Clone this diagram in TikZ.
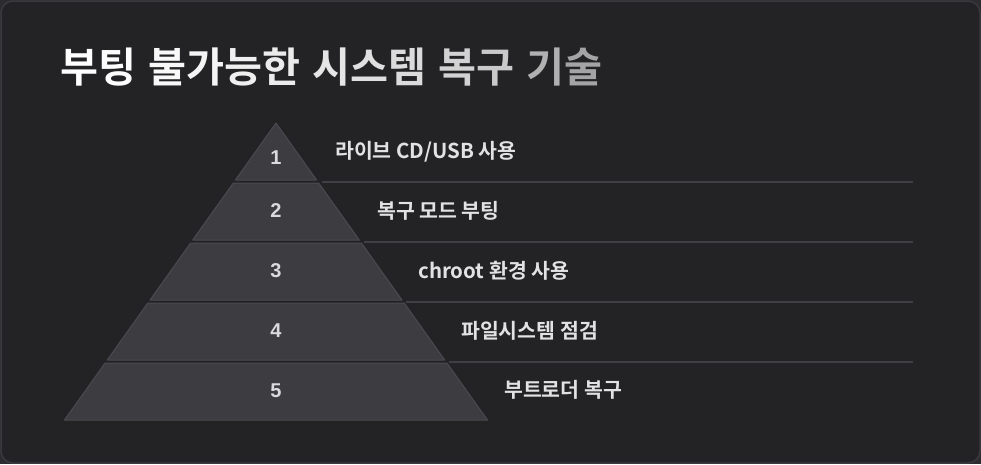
\documentclass[tikz,border=0pt]{standalone}
\usepackage{fontspec}
\setmainfont{Noto Sans CJK KR}[BoldFont={Noto Sans CJK KR Bold}]
\newfontfamily\numfont{Liberation Sans}
\definecolor{outerbg}{HTML}{2C2C2F}
\definecolor{panelbg}{HTML}{232326}
\definecolor{panelborder}{HTML}{3A3A3E}
\definecolor{layerfill}{HTML}{3C3C41}
\definecolor{layeredge}{HTML}{4A4A50}
\definecolor{sepline}{HTML}{404044}
\definecolor{labeltext}{HTML}{E2E2E4}
\definecolor{numtext}{HTML}{DADADC}
\definecolor{titleend}{HTML}{8E8E90}
\newcommand{\tc}[2]{\textcolor{white!#1!titleend}{#2}}
\newcommand{\tsp}{\hspace{12pt}}
\tikzset{
  layer/.style={fill=layerfill, draw=layeredge, line width=1pt, line join=round},
  sep/.style={draw=sepline, line width=2pt},
  num/.style={font=\numfont\bfseries\fontsize{20}{22}\selectfont, text=numtext, anchor=center},
  lab/.style={font=\bfseries\fontsize{20.5}{23}\selectfont, text=labeltext, anchor=west, inner sep=0pt},
  titlestyle/.style={font=\bfseries\fontsize{41.3}{46}\selectfont, anchor=west, inner sep=0pt}
}
\begin{document}
\begin{tikzpicture}[x=1pt,y=-1pt]
\useasboundingbox (0,0) rectangle (981,464);
\fill[outerbg] (0,0) rectangle (981,464);
\draw[fill=panelbg, draw=panelborder, line width=1.5pt, rounded corners=12pt] (1,1) rectangle (980,463);
% title
\node[titlestyle] (title) at (60,67) {\tc{100}{부}\tc{98}{팅}\tsp\tc{94}{불}\tc{90}{가}\tc{86}{능}\tc{82}{한}\tsp\tc{77}{시}\tc{72}{스}\tc{68}{템}\tsp\tc{60}{복}\tc{52}{구}\tsp\tc{30}{기}\tc{20}{술}};
% pyramid layers
\draw[layer] (276,123) -- (316.6,180) -- (235.4,180) -- cycle;
\draw[layer] (233.3,183) -- (318.7,183) -- (359.3,240) -- (192.7,240) -- cycle;
\draw[layer] (190.6,243) -- (361.4,243) -- (402,300) -- (150,300) -- cycle;
\draw[layer] (147.8,303) -- (404.2,303) -- (444.7,360) -- (107.3,360) -- cycle;
\draw[layer] (105.1,363) -- (446.9,363) -- (487.5,420) -- (64.5,420) -- cycle;
% numbers
\node[num] (n1) at (276,158) {1};
\node[num] (n2) at (276,211) {2};
\node[num] (n3) at (276,271) {3};
\node[num] (n4) at (276,331) {4};
\node[num] (n5) at (276,391) {5};
% separators
\coordinate (s1a) at (322,182); \coordinate (s1b) at (913,182);
\coordinate (s2a) at (364,242); \coordinate (s2b) at (913,242);
\coordinate (s3a) at (406,302); \coordinate (s3b) at (913,302);
\coordinate (s4a) at (449,362); \coordinate (s4b) at (913,362);
\draw[sep] (s1a) -- (s1b);
\draw[sep] (s2a) -- (s2b);
\draw[sep] (s3a) -- (s3b);
\draw[sep] (s4a) -- (s4b);
% labels
\node[lab] (l1) at (335,152) {라이브 CD/USB 사용};
\node[lab] (l2) at (377,211) {복구 모드 부팅};
\node[lab] (l3) at (418,271) {chroot 환경 사용};
\node[lab] (l4) at (461,331) {파일시스템 점검};
\node[lab] (l5) at (504,390) {부트로더 복구};
\end{tikzpicture}
\end{document}
